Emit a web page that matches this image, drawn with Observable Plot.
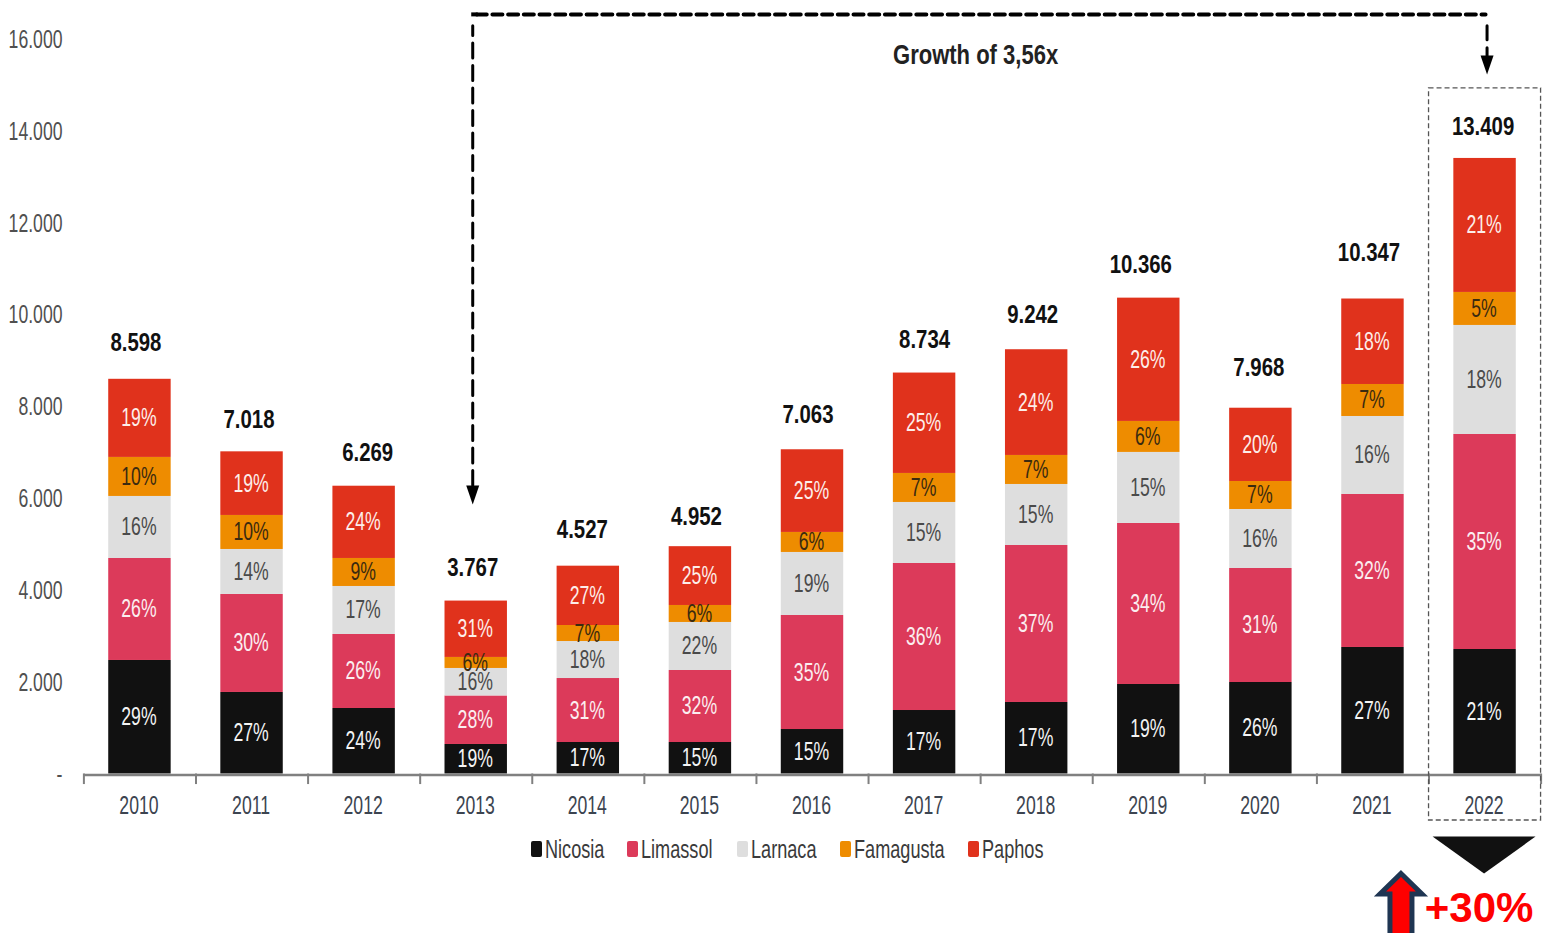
<!DOCTYPE html>
<html>
<head>
<meta charset="utf-8">
<script src="https://cdn.jsdelivr.net/npm/d3@7"></script>
<script src="https://cdn.jsdelivr.net/npm/@observablehq/plot@0.6"></script>
<style>
html,body{margin:0;padding:0;background:#fff;overflow:hidden;width:1545px;height:933px}
#chart{position:relative;width:1545px;height:933px}
#chart svg{display:block;position:absolute;left:0;top:0}
.lg{position:absolute;top:835px;height:28px;line-height:28px;display:flex;align-items:center;font:25px "Liberation Sans",sans-serif;color:#3a3a3a}
.lg i{display:block;width:11px;height:16px;border-radius:2px;margin-right:2.5px}
.lg span{display:inline-block;transform:scaleX(.725);transform-origin:left center;white-space:nowrap}
</style>
</head>
<body>
<div id="chart"></div>
<script>
const years = [2010,2011,2012,2013,2014,2015,2016,2017,2018,2019,2020,2021,2022];
const cities = ["Nicosia","Limassol","Larnaca","Famagusta","Paphos"];
const totals = [8598,7018,6269,3767,4527,4952,7063,8734,9242,10366,7968,10347,13409];

const nicosia   = [2473,1776,1427,643,686,686,969,1383,1558,1950,1993,2756,2712];
const limassol  = [2222,2135,1612,1057,1394,1569,2484,3203,3420,3508,2484,3333,4684];
const larnaca   = [1351,980,1046,599,806,1046,1373,1329,1329,1547,1285,1699,2375];
const famagusta = [850,741,610,240,349,370,436,632,632,675,610,697,719];
const paphos    = [1702,1386,1574,1228,1292,1281,1801,2187,2303,2686,1596,1862,2919];

const pctNicosia   = [29,27,24,19,17,15,15,17,17,19,26,27,21];
const pctLimassol  = [26,30,26,28,31,32,35,36,37,34,31,32,35];
const pctLarnaca   = [16,14,17,16,18,22,19,15,15,15,16,16,18];
const pctFamagusta = [10,10,9,6,7,6,6,7,7,6,7,7,5];
const pctPaphos    = [19,19,24,31,27,25,25,25,24,26,20,18,21];

const yTicks = [0,2000,4000,6000,8000,10000,12000,14000,16000];
const colors = ["#111111","#dc3a5a","#dedede","#ee8c00","#e0321c"];
const labelColors = ["#f4f4f4","#fbeef0","#4a4a4a","#3a2a10","#fdeeea"];

const series = [nicosia,limassol,larnaca,famagusta,paphos];
const pcts = [pctNicosia,pctLimassol,pctLarnaca,pctFamagusta,pctPaphos];
const rows = cities.flatMap((city,c)=>years.map((year,i)=>({year,city,value:series[c][i],pct:pcts[c][i],labelColor:labelColors[c]})));

// Manual placement of the total labels, as in the source slide
const totalDx = [-4,-3,3.5,-3.5,-6,-4,-4.5,0,-4,-8,-2,-4,-2];
const totalDy = [-36,-32,-33,-33,-36,-30,-35,-33,-35,-33,-40,-46,-31];

const numFmt = d3.formatLocale({decimal:",",thousands:".",grouping:[3],currency:["",""]}).format(",d");
const FONT = '"Liberation Sans",sans-serif';

const poly = pts => ({draw(ctx){pts.forEach((p,i)=> i? ctx.lineTo(p[0],p[1]) : ctx.moveTo(p[0],p[1])); ctx.closePath();}});
const smallHead = poly([[-6.5,0],[6.5,0],[0,19]]);
const bigHead = poly([[-51.5,0],[51.5,0],[0,37]]);
const upArrow = poly([[0,-23],[21,-2.5],[11,-2.5],[11,44],[-11,44],[-11,-2.5],[-21,-2.5]]);
const corner = poly([[-1.5,-2],[5,-2],[5,2],[-1.5,2]]);

const plot = Plot.plot({
  width:1545, height:933,
  marginTop:39, marginBottom:159.5, marginLeft:83.4, marginRight:4.4,
  style:{fontFamily:FONT, fontSize:"25px", background:"transparent", overflow:"visible"},
  x:{type:"band", domain:years, paddingInner:0.443, paddingOuter:0.2215, round:false, align:0.5, label:null},
  y:{domain:[0,16000], label:null},
  color:{domain:cities, range:colors},
  marks:[
    Plot.barY(rows, Plot.stackY({x:"year", y:"value", fill:"city", order:cities})),
    Plot.ruleY([0],{dy:1,stroke:"#808080",strokeWidth:2.5}),
    Plot.ruleX(years,{x:d=>d,y1:()=>0,y2:()=>-230,dx:-56.05,stroke:"#808080",strokeWidth:2}),
    Plot.ruleX([2022],{x:d=>d,y1:()=>0,y2:()=>-230,dx:56.05,stroke:"#808080",strokeWidth:2}),
    Plot.axisY({ticks:yTicks,tickSize:0,tickPadding:21.4,anchor:"left",label:null,dy:0.5,
      tickFormat:d=>d===0?"-":numFmt(d),fill:"#505050"}),
    Plot.axisX({anchor:"bottom",tickSize:0,tickPadding:22,label:null,dx:-1,tickFormat:d=>String(d),fill:"#3c4450"}),
    Plot.text(rows, Plot.stackY({x:"year", y:"value", z:"city", order:cities, dx:-1,
      text:d=>d.pct+"%", fill:{value:d=>d.labelColor,scale:null}, fontSize:25})),
    ...years.map((year,i)=>Plot.text([i],{x:()=>year,y:j=>totals[j],text:j=>numFmt(totals[j]),
      dx:totalDx[i],dy:totalDy[i],fontWeight:"bold",fontSize:25,fill:"#111"})),
    Plot.text(["Growth of 3,56x"],{x:()=>2017,y:()=>15654,text:d=>d,dx:51,fontWeight:"bold",fontSize:27,fill:"#222"}),
    Plot.barY([2022],{x:d=>d,y1:()=>-1013,y2:()=>14935,insetLeft:-24.8,insetRight:-24.8,fill:"none",stroke:"#555",strokeWidth:1.3,strokeDasharray:"5,3"}),
    Plot.line([[2013,6285],[2013,16300]],{x:d=>d[0],y:d=>d[1],dx:-3.5,stroke:"#000",strokeWidth:3,strokeDasharray:"15,7.5",curve:"linear"}),
    Plot.line([[2013,16547],[2022,16547]],{x:d=>d[0],y:d=>d[1],dx:0.5,stroke:"#000",strokeWidth:4,strokeDasharray:"10,5.7",curve:"linear"}),
    Plot.dot([2013],{x:d=>d,y:()=>16547,dx:-3.5,symbol:corner,fill:"#000",stroke:"none"}),
    Plot.line([[2022,16300],[2022,15500]],{x:d=>d[0],y:d=>d[1],dx:2,stroke:"#000",strokeWidth:3,strokeDasharray:"14,8",curve:"linear"}),
    Plot.dot([2013],{x:d=>d,y:()=>6285,dx:-3.5,symbol:smallHead,fill:"#000",stroke:"none"}),
    Plot.dot([2022],{x:d=>d,y:()=>15654,dx:2,symbol:smallHead,fill:"#000",stroke:"none"}),
    Plot.dot([2022],{x:d=>d,y:()=>-1362,dx:-1,symbol:bigHead,fill:"#111",stroke:"none"}),
    Plot.dot([2021],{x:d=>d,y:()=>-2669,dx:28,symbol:upArrow,fill:"#ff0000",stroke:"#1f3552",strokeWidth:5,strokeLinejoin:"miter"}),
    Plot.text(["+30%"],{x:d=>2022,y:()=>-2930,text:d=>d,dx:-6,className:"big",fontFamily:"Liberation Sans",fontWeight:"bold",fontSize:42,fill:"#ff0000"})
  ]
});
const chart = document.getElementById("chart");
chart.appendChild(plot);

// The slide's type is condensed: narrow the glyphs while keeping their height
plot.querySelectorAll("text").forEach(t=>{
  if (t.closest(".big")) return;
  const bold = t.closest('[font-weight="bold"]');
  const w = t.getComputedTextLength();
  if (w>0){ t.setAttribute("textLength",(w*(bold?0.815:0.705)).toFixed(1)); t.setAttribute("lengthAdjust","spacingAndGlyphs"); }
});

// Legend
const legendLeft = [531,627,737,840,968];
cities.forEach((c,i)=>{
  const d=document.createElement("div"); d.className="lg"; d.style.left=legendLeft[i]+"px";
  const sw=document.createElement("i"); sw.style.background=colors[i];
  const s=document.createElement("span"); s.textContent=c;
  d.append(sw,s); chart.appendChild(d);
});
</script>
</body>
</html>
